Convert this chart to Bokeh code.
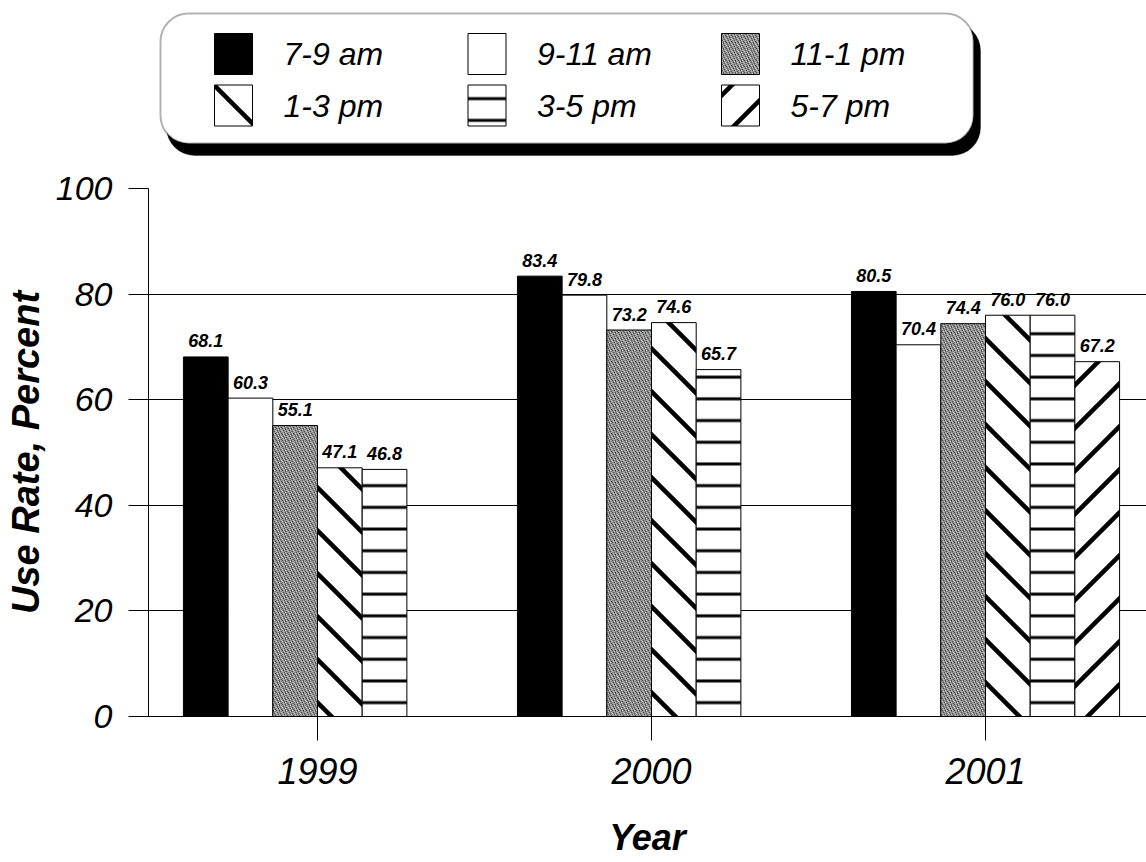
import math
from bokeh.plotting import figure
from bokeh.layouts import column
from bokeh.models import ColumnDataSource, Range1d, FixedTicker, BoxAnnotation, CanvasTexture
from bokeh.core.properties import value
from bokeh.embed import file_html
from bokeh.resources import INLINE

# ---------------- data ----------------
years = ["1999", "2000", "2001"]
series_names = ["7-9 am", "9-11 am", "11-1 pm", "1-3 pm", "3-5 pm", "5-7 pm"]
use_7_9_am = [68.1, 83.4, 80.5]
use_9_11_am = [60.3, 79.8, 70.4]
use_11_1_pm = [55.1, 73.2, 74.4]
use_1_3_pm = [47.1, 74.6, 76.0]
use_3_5_pm = [46.8, 65.7, 76.0]
use_5_7_pm = [None, None, 67.2]
y_ticks = [0, 20, 40, 60, 80, 100]

series_values = [use_7_9_am, use_9_11_am, use_11_1_pm, use_1_3_pm, use_3_5_pm, use_5_7_pm]

FONT = "Liberation Sans"
BW = 0.1338  # bar width in group units

# 45-degree hatch textures (tile forced to 43 px)
BACK_CODE = """
const c = ctx.canvas;
const s = 43;
if (c) { c.width = s; c.height = s; }
ctx.clearRect(0, 0, s, s);
ctx.strokeStyle = 'black';
ctx.lineWidth = 4.5;
for (let k = -1; k <= 1; k++) {
  ctx.beginPath();
  ctx.moveTo(k*s - 3, -3);
  ctx.lineTo(k*s + s + 3, s + 3);
  ctx.stroke();
}
"""
FWD_CODE = """
const c = ctx.canvas;
const s = 43;
if (c) { c.width = s; c.height = s; }
ctx.clearRect(0, 0, s, s);
ctx.strokeStyle = 'black';
ctx.lineWidth = 4.5;
for (let k = 0; k <= 2; k++) {
  ctx.beginPath();
  ctx.moveTo(k*s + 3, -3);
  ctx.lineTo(k*s - s - 3, s + 3);
  ctx.stroke();
}
"""
# stippled gray screen texture (ordered dots)
STIPPLE_CODE = """
const c = ctx.canvas;
const s = 6;
if (c) { c.width = s; c.height = s; }
ctx.clearRect(0, 0, s, s);
ctx.fillStyle = '#4e4e4e';
const dark = [[0,0],[3,1],[1,2],[4,3],[2,4],[5,5],[3,0]];
for (const d of dark) { ctx.fillRect(d[0], d[1], 1, 1); }
ctx.fillStyle = '#c4c4c4';
const light = [[2,1],[5,2],[0,3],[3,4],[1,5],[4,0]];
for (const d of light) { ctx.fillRect(d[0], d[1], 1, 1); }
"""
back_tex = CanvasTexture(code=BACK_CODE)
fwd_tex = CanvasTexture(code=FWD_CODE)
stipple_tex = CanvasTexture(code=STIPPLE_CODE)

styles = [
    dict(fill_color="black"),
    dict(fill_color="white"),
    dict(fill_color="#8e8e8e", hatch_pattern=dict(value="stipple"), hatch_extra={"stipple": stipple_tex},
         hatch_scale=6, hatch_color="black"),
    dict(fill_color="white", hatch_pattern=dict(value="diagback"), hatch_extra={"diagback": back_tex},
         hatch_scale=43, hatch_weight=4.5, hatch_color="black"),
    dict(fill_color="white", hatch_pattern="horizontal_line", hatch_scale=21.7, hatch_weight=3, hatch_color="black"),
    dict(fill_color="white", hatch_pattern=dict(value="diagfwd"), hatch_extra={"diagfwd": fwd_tex},
         hatch_scale=43, hatch_weight=4.5, hatch_color="black"),
]

# ---------------- legend figure ----------------
lg = figure(width=1146, height=170, x_range=Range1d(148, 1146), y_range=Range1d(170, 0),
            output_backend="svg", toolbar_location=None, min_border=0,
            x_axis_type=None, y_axis_type=None)
lg.outline_line_color = None
lg.grid.visible = False
lg.add_layout(BoxAnnotation(left=166, right=980, top=22, bottom=155, fill_color="black", fill_alpha=1,
                            line_color="black", border_radius=28, level="underlay"))
lg.add_layout(BoxAnnotation(left=160, right=973, top=13, bottom=143, fill_color="white", fill_alpha=1,
                            line_color="black", line_width=2, border_radius=28, level="underlay"))

for i, name in enumerate(series_names):
    col, row = i % 3, i // 3
    sx = 233 + 253.5 * col
    sy = 53.5 + 51.5 * row
    src = ColumnDataSource(dict(x=[sx], y=[sy], lx=[sx + 50], t=[name]))
    lg.rect(x="x", y="y", width=38, height=41, source=src, line_color="black", line_width=1, **styles[i])
    lg.text(x="lx", y="y", text="t", source=src, text_align="left", text_baseline="middle",
            text_font=value(FONT), text_font_style="italic", text_font_size="32px", text_color="black")

# ---------------- main figure ----------------
p = figure(width=1146, height=692, x_range=Range1d(-0.506, 2.482), y_range=Range1d(0, 100),
           output_backend="svg", toolbar_location=None,
           min_border_left=148, min_border_right=0, min_border_top=18, min_border_bottom=146)
p.outline_line_color = None
p.xgrid.visible = False
p.ygrid.ticker = FixedTicker(ticks=y_ticks)
p.ygrid.grid_line_color = "black"
p.ygrid.grid_line_width = 1

yax = p.yaxis[0]
yax.ticker = FixedTicker(ticks=y_ticks)
yax.major_tick_out = 20
yax.major_tick_in = 0
yax.minor_tick_line_color = None
yax.axis_line_color = "black"
yax.major_tick_line_color = "black"
yax.major_label_standoff = 16
yax.major_label_text_font = FONT
yax.major_label_text_font_style = "italic"
yax.major_label_text_font_size = "34px"
yax.major_label_text_color = "black"
yax.axis_label = "Use Rate, Percent"
yax.axis_label_text_font = FONT
yax.axis_label_text_font_style = "bold italic"
yax.axis_label_text_font_size = "38px"
yax.axis_label_text_color = "black"
yax.axis_label_standoff = 6

xax = p.xaxis[0]
xax.ticker = FixedTicker(ticks=[0, 1, 2])
xax.major_label_overrides = {i: y for i, y in enumerate(years)}
xax.major_tick_out = 24
xax.major_tick_in = 0
xax.minor_tick_line_color = None
xax.axis_line_color = "black"
xax.major_tick_line_color = "black"
xax.major_label_standoff = 17
xax.major_label_text_font = FONT
xax.major_label_text_font_style = "italic"
xax.major_label_text_font_size = "36px"
xax.major_label_text_color = "black"
xax.axis_label = "Year"
xax.axis_label_text_font = FONT
xax.axis_label_text_font_style = "bold italic"
xax.axis_label_text_font_size = "36px"
xax.axis_label_text_color = "black"
xax.axis_label_standoff = 30

for i, vals in enumerate(series_values):
    xs = [g + (i - 2.5) * BW for g in range(len(years))]
    tops = [float("nan") if v is None else v for v in vals]
    labels = ["" if v is None else f"{v:.1f}" for v in vals]
    src = ColumnDataSource(dict(x=xs, top=tops, label=labels))
    p.vbar(x="x", top="top", width=BW, source=src, line_color="black", line_width=1, **styles[i])
    p.text(x="x", y="top", text="label", source=src, text_align="center", text_baseline="alphabetic",
           y_offset=-16, text_font=value(FONT), text_font_style="bold italic", text_font_size="18px",
           text_color="black")

layout = column(lg, p, spacing=0)
open("out.html", "w").write(file_html(layout, INLINE))
